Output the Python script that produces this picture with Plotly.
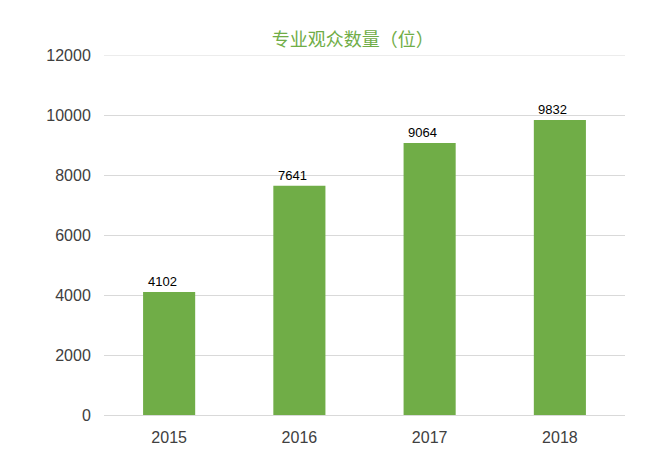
import plotly.graph_objects as go

years = ["2015", "2016", "2017", "2018"]
visitors = [4102, 7641, 9064, 9832]
y_ticks = [0, 2000, 4000, 6000, 8000, 10000, 12000]
y_tick_text = ["0", "2000", "4000", "6000", "8000", "10000", "12000"]

# page body adds an 8px offset, so margins are shifted to compensate
fig = go.Figure(
    go.Bar(
        x=years,
        y=visitors,
        marker=dict(color="#70AD47", line=dict(width=0)),
        width=0.4,
        hoverinfo="x+y",
    )
)

# value labels sit slightly left of the bar centre, like the original
for i, v in enumerate(visitors):
    fig.add_annotation(
        x=i,
        y=v,
        text=str(v),
        showarrow=False,
        xanchor="center",
        yanchor="bottom",
        xshift=-7,
        yshift=1,
        font=dict(size=13, color="#000000", family="Liberation Sans, Arial"),
    )

# top gridline (plotly drops the grid line sitting on the plot edge)
fig.add_shape(
    type="line",
    xref="paper",
    yref="y",
    x0=0,
    x1=1,
    y0=y_ticks[-1],
    y1=y_ticks[-1],
    line=dict(color="#D9D9D9", width=1),
    layer="below",
)

tick_font = dict(size=16, color="#404040", family="Liberation Sans, Arial")

fig.update_layout(
    width=668,
    height=468,
    margin=dict(l=96, r=51, t=47, b=61),
    paper_bgcolor="white",
    plot_bgcolor="white",
    showlegend=False,
    title=dict(
        text="专业观众数量（位）",
        x=0.516,
        xanchor="center",
        y=0.932,
        yanchor="middle",
        font=dict(size=18, color="#70AD47", family="Noto Sans CJK SC"),
    ),
    xaxis=dict(
        type="category",
        range=[-0.5, len(years) - 0.5],
        showgrid=False,
        showline=False,
        ticks="outside",
        ticklen=8,
        tickcolor="rgba(0,0,0,0)",
        tickfont=tick_font,
    ),
    yaxis=dict(
        range=[0, 12000],
        tickvals=y_ticks,
        ticktext=y_tick_text,
        showgrid=True,
        gridcolor="#D9D9D9",
        gridwidth=1,
        zeroline=True,
        zerolinecolor="#D9D9D9",
        zerolinewidth=1,
        showline=False,
        ticks="outside",
        ticklen=9,
        tickcolor="rgba(0,0,0,0)",
        tickfont=tick_font,
    ),
)

fig.write_html("out.html")
